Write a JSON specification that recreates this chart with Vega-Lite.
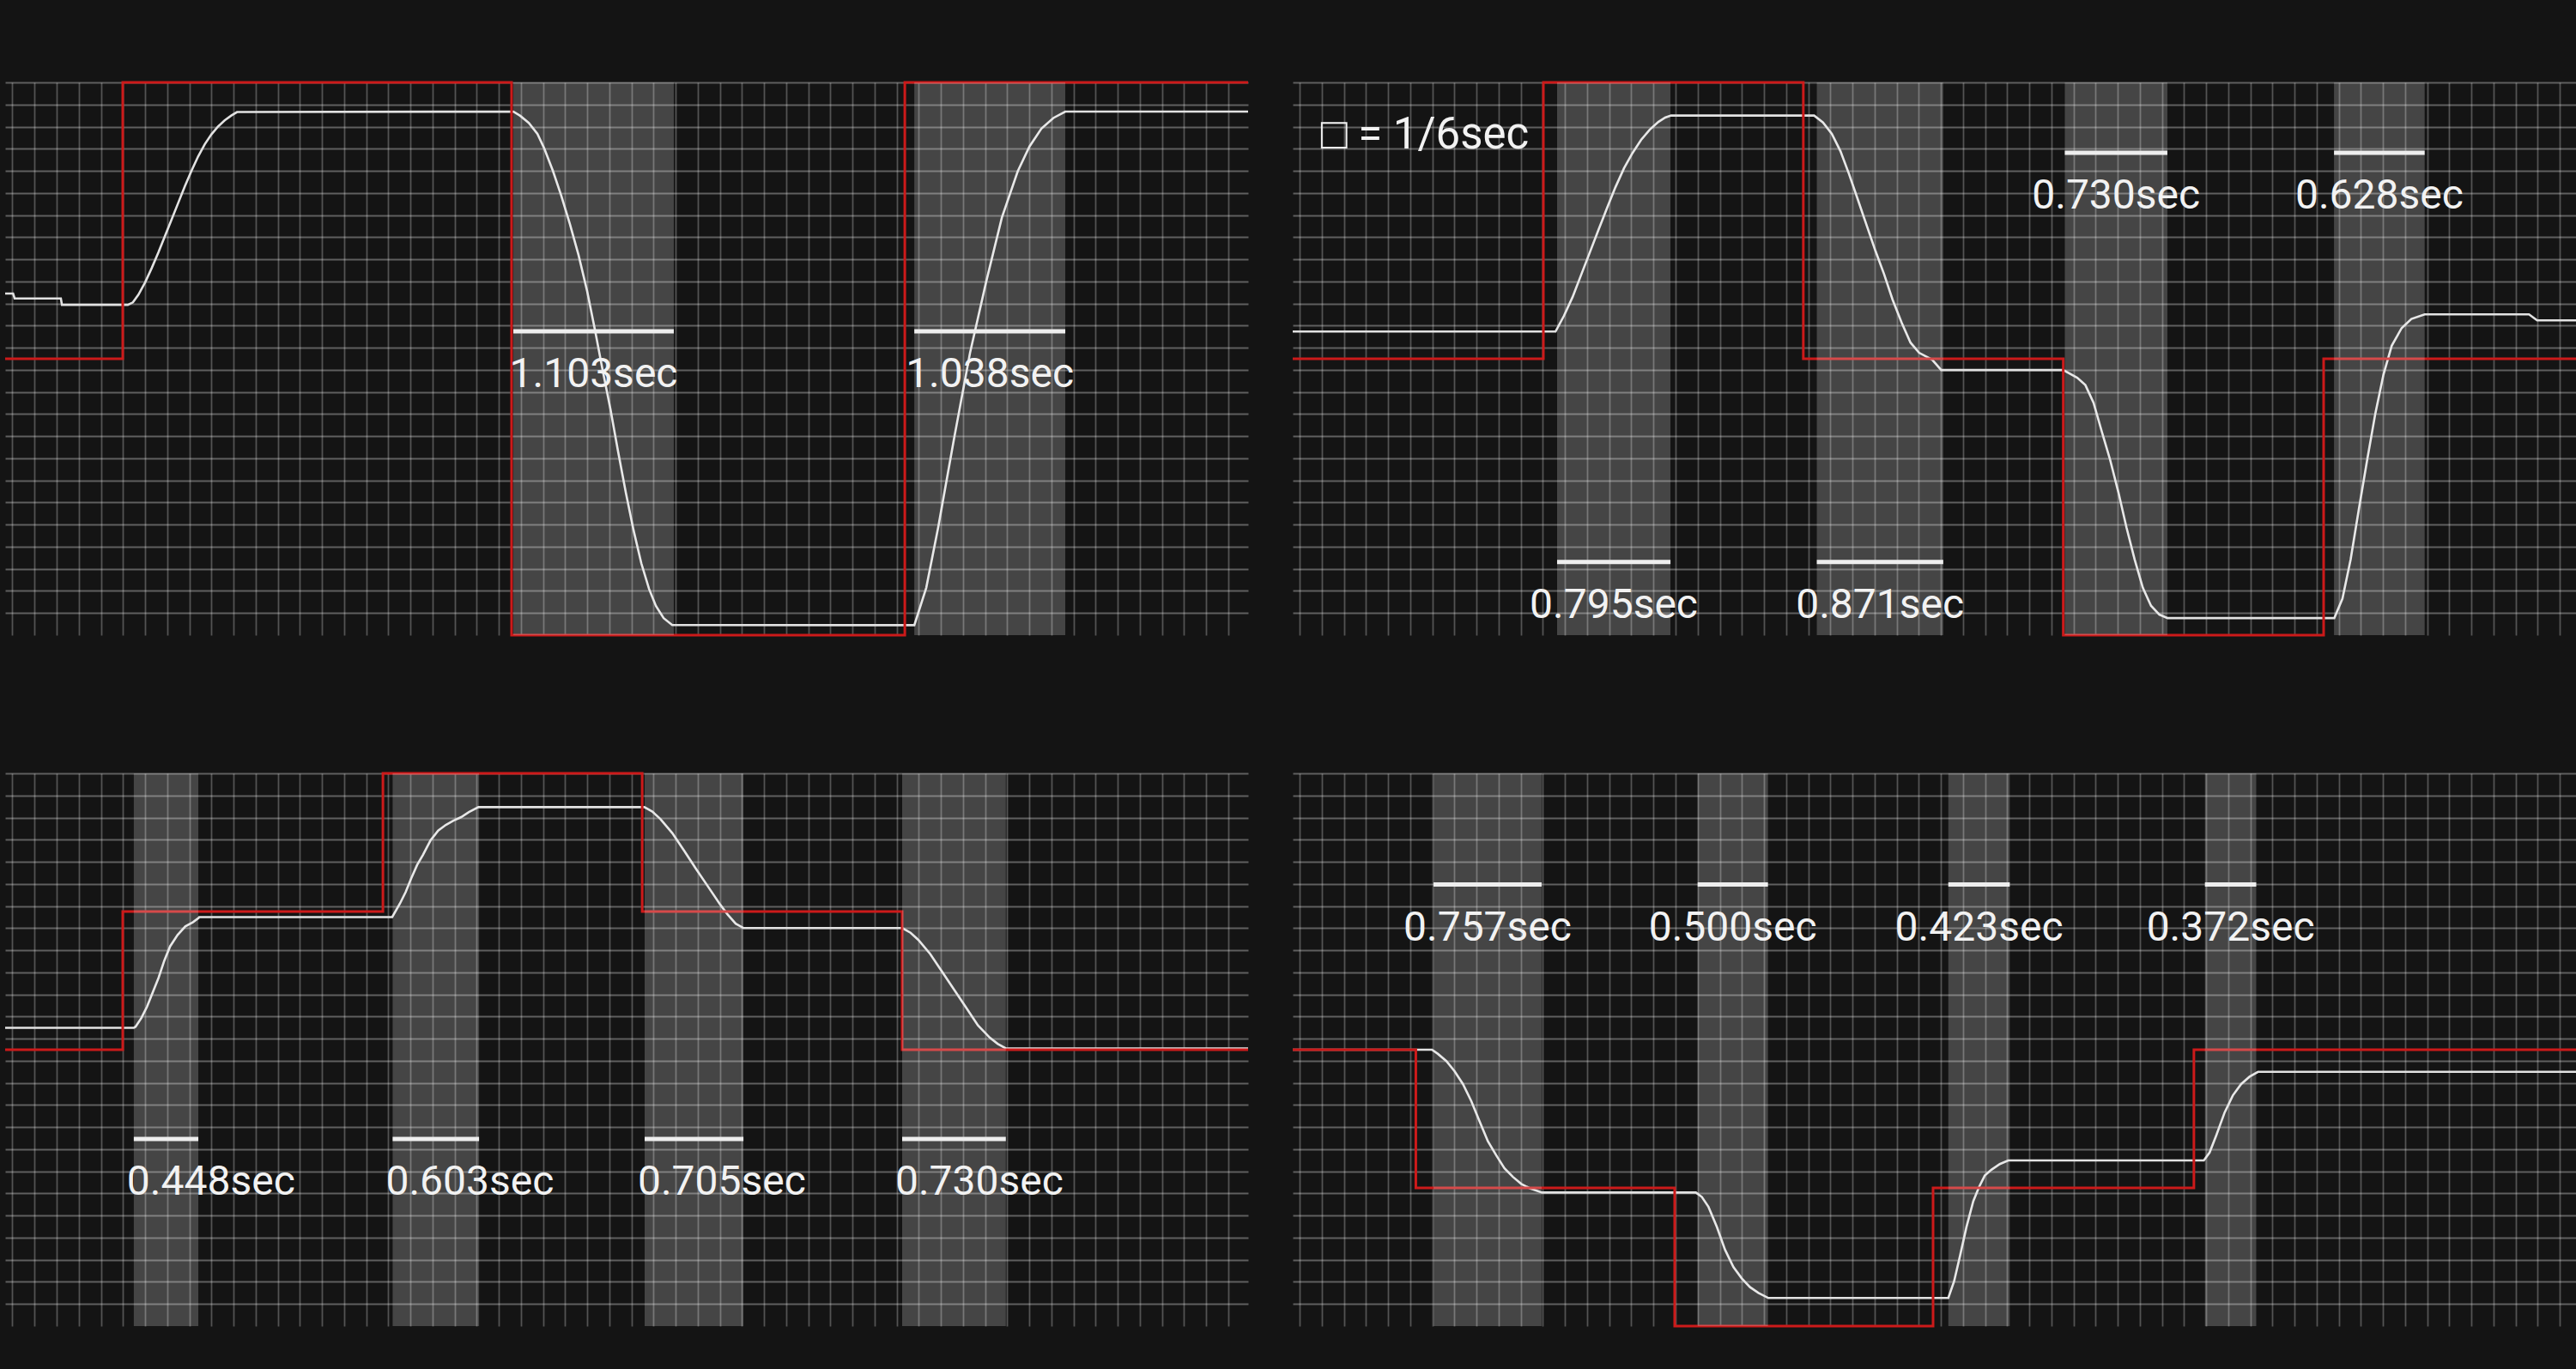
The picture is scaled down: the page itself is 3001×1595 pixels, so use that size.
{
"$schema": "https://vega.github.io/schema/vega-lite/v6.json",
"background": "#141414",
"padding": {"left": 0, "top": 90, "right": 0, "bottom": 56},
"datasets": {
"resp": [
{"panel":1,"t":-0.33,"v":15.45},{"panel":1,"t":0.03,"v":15.45},{"panel":1,"t":0.1,"v":15.23},{"panel":1,"t":2.19,"v":15.23},{"panel":1,"t":2.24,"v":14.94},{"panel":1,"t":5.22,"v":14.94},{"panel":1,"t":5.45,"v":15.05},{"panel":1,"t":5.7,"v":15.4},{"panel":1,"t":6.0,"v":15.95},{"panel":1,"t":6.3,"v":16.6},{"panel":1,"t":6.6,"v":17.3},{"panel":1,"t":6.9,"v":18.05},{"panel":1,"t":7.2,"v":18.8},{"panel":1,"t":7.5,"v":19.55},{"panel":1,"t":7.8,"v":20.3},{"panel":1,"t":8.1,"v":21.0},{"panel":1,"t":8.4,"v":21.65},{"panel":1,"t":8.7,"v":22.2},{"panel":1,"t":9.0,"v":22.65},{"panel":1,"t":9.3,"v":23.0},{"panel":1,"t":9.6,"v":23.28},{"panel":1,"t":9.9,"v":23.5},{"panel":1,"t":10.16,"v":23.66},{"panel":1,"t":22.66,"v":23.68},{"panel":1,"t":22.97,"v":23.49},{"panel":1,"t":23.36,"v":23.17},{"panel":1,"t":23.75,"v":22.67},{"panel":1,"t":24.06,"v":22.01},{"panel":1,"t":24.45,"v":21.0},{"panel":1,"t":24.83,"v":19.87},{"panel":1,"t":25.22,"v":18.59},{"panel":1,"t":25.61,"v":17.19},{"panel":1,"t":26.0,"v":15.56},{"panel":1,"t":26.35,"v":13.82},{"panel":1,"t":26.7,"v":11.99},{"panel":1,"t":27.05,"v":10.24},{"panel":1,"t":27.4,"v":8.3},{"panel":1,"t":27.75,"v":6.44},{"panel":1,"t":28.1,"v":4.74},{"panel":1,"t":28.45,"v":3.25},{"panel":1,"t":28.8,"v":2.09},{"panel":1,"t":29.11,"v":1.32},{"panel":1,"t":29.46,"v":0.77},{"panel":1,"t":29.85,"v":0.46},{"panel":1,"t":40.8,"v":0.45},{"panel":1,"t":41.34,"v":2.14},{"panel":1,"t":41.88,"v":4.87},{"panel":1,"t":42.6,"v":8.9},{"panel":1,"t":43.32,"v":12.76},{"panel":1,"t":44.05,"v":15.98},{"panel":1,"t":44.76,"v":18.88},{"panel":1,"t":45.48,"v":20.98},{"panel":1,"t":46.01,"v":22.1},{"panel":1,"t":46.55,"v":22.91},{"panel":1,"t":47.09,"v":23.39},{"panel":1,"t":47.63,"v":23.68},{"panel":1,"t":55.9,"v":23.68},
{"panel":2,"t":-0.32,"v":13.73},{"panel":2,"t":11.57,"v":13.73},{"panel":2,"t":11.95,"v":14.44},{"panel":2,"t":12.34,"v":15.29},{"panel":2,"t":12.73,"v":16.3},{"panel":2,"t":13.12,"v":17.31},{"panel":2,"t":13.51,"v":18.32},{"panel":2,"t":13.89,"v":19.29},{"panel":2,"t":14.28,"v":20.26},{"panel":2,"t":14.67,"v":21.12},{"panel":2,"t":15.06,"v":21.82},{"panel":2,"t":15.44,"v":22.4},{"panel":2,"t":15.83,"v":22.86},{"panel":2,"t":16.22,"v":23.21},{"panel":2,"t":16.53,"v":23.41},{"panel":2,"t":16.8,"v":23.5},{"panel":2,"t":23.27,"v":23.5},{"panel":2,"t":23.67,"v":23.19},{"panel":2,"t":24.07,"v":22.67},{"panel":2,"t":24.46,"v":21.89},{"panel":2,"t":24.85,"v":20.85},{"panel":2,"t":25.25,"v":19.69},{"panel":2,"t":25.65,"v":18.52},{"panel":2,"t":26.05,"v":17.36},{"panel":2,"t":26.43,"v":16.34},{"panel":2,"t":26.82,"v":15.17},{"panel":2,"t":27.23,"v":14.13},{"panel":2,"t":27.63,"v":13.23},{"panel":2,"t":28.02,"v":12.77},{"panel":2,"t":28.61,"v":12.46},{"panel":2,"t":29.02,"v":11.99},{"panel":2,"t":34.54,"v":11.99},{"panel":2,"t":35.17,"v":11.64},{"panel":2,"t":35.54,"v":11.31},{"panel":2,"t":35.91,"v":10.51},{"panel":2,"t":36.28,"v":9.22},{"panel":2,"t":36.66,"v":7.93},{"panel":2,"t":37.03,"v":6.48},{"panel":2,"t":37.4,"v":4.87},{"panel":2,"t":37.77,"v":3.42},{"panel":2,"t":38.14,"v":2.14},{"panel":2,"t":38.51,"v":1.33},{"panel":2,"t":38.89,"v":0.93},{"panel":2,"t":39.26,"v":0.77},{"panel":2,"t":46.8,"v":0.77},{"panel":2,"t":47.17,"v":1.65},{"panel":2,"t":47.54,"v":3.42},{"panel":2,"t":47.91,"v":5.68},{"panel":2,"t":48.29,"v":7.93},{"panel":2,"t":48.66,"v":10.03},{"panel":2,"t":49.03,"v":11.8},{"panel":2,"t":49.4,"v":13.09},{"panel":2,"t":49.85,"v":13.89},{"panel":2,"t":50.29,"v":14.3},{"panel":2,"t":50.89,"v":14.51},{"panel":2,"t":55.61,"v":14.51},{"panel":2,"t":55.98,"v":14.24},{"panel":2,"t":57.97,"v":14.24},
{"panel":3,"t":-0.33,"v":13.49},{"panel":3,"t":5.49,"v":13.49},{"panel":3,"t":5.57,"v":13.54},{"panel":3,"t":5.83,"v":13.93},{"panel":3,"t":6.09,"v":14.45},{"panel":3,"t":6.35,"v":15.1},{"panel":3,"t":6.61,"v":15.75},{"panel":3,"t":6.87,"v":16.53},{"panel":3,"t":7.13,"v":17.17},{"panel":3,"t":7.47,"v":17.69},{"panel":3,"t":7.82,"v":18.08},{"panel":3,"t":8.17,"v":18.27},{"panel":3,"t":8.42,"v":18.46},{"panel":3,"t":8.45,"v":18.5},{"panel":3,"t":17.18,"v":18.5},{"panel":3,"t":17.53,"v":19.11},{"panel":3,"t":17.79,"v":19.63},{"panel":3,"t":18.05,"v":20.27},{"panel":3,"t":18.31,"v":20.86},{"panel":3,"t":18.57,"v":21.31},{"panel":3,"t":18.91,"v":21.96},{"panel":3,"t":19.26,"v":22.41},{"panel":3,"t":19.61,"v":22.67},{"panel":3,"t":19.95,"v":22.86},{"panel":3,"t":20.3,"v":23.02},{"panel":3,"t":20.65,"v":23.25},{"panel":3,"t":21.08,"v":23.47},{"panel":3,"t":28.59,"v":23.47},{"panel":3,"t":28.95,"v":23.27},{"panel":3,"t":29.31,"v":22.94},{"panel":3,"t":29.85,"v":22.3},{"panel":3,"t":30.39,"v":21.5},{"panel":3,"t":30.91,"v":20.7},{"panel":3,"t":31.46,"v":19.89},{"panel":3,"t":32.0,"v":19.09},{"panel":3,"t":32.36,"v":18.61},{"panel":3,"t":32.72,"v":18.2},{"panel":3,"t":33.08,"v":18.0},{"panel":3,"t":40.26,"v":18.0},{"panel":3,"t":40.63,"v":17.79},{"panel":3,"t":40.98,"v":17.47},{"panel":3,"t":41.52,"v":16.83},{"panel":3,"t":42.06,"v":16.02},{"panel":3,"t":42.6,"v":15.22},{"panel":3,"t":43.14,"v":14.41},{"panel":3,"t":43.68,"v":13.6},{"panel":3,"t":44.22,"v":13.04},{"panel":3,"t":44.57,"v":12.77},{"panel":3,"t":44.94,"v":12.56},{"panel":3,"t":55.9,"v":12.56},
{"panel":4,"t":-0.32,"v":12.5},{"panel":4,"t":5.98,"v":12.5},{"panel":4,"t":6.25,"v":12.31},{"panel":4,"t":6.63,"v":11.99},{"panel":4,"t":7.0,"v":11.53},{"panel":4,"t":7.38,"v":10.95},{"panel":4,"t":7.76,"v":10.17},{"panel":4,"t":8.13,"v":9.27},{"panel":4,"t":8.51,"v":8.36},{"panel":4,"t":8.89,"v":7.72},{"panel":4,"t":9.26,"v":7.14},{"panel":4,"t":9.64,"v":6.75},{"panel":4,"t":10.02,"v":6.43},{"panel":4,"t":10.39,"v":6.24},{"panel":4,"t":10.96,"v":6.04},{"panel":4,"t":17.92,"v":6.04},{"panel":4,"t":18.19,"v":5.84},{"panel":4,"t":18.49,"v":5.39},{"panel":4,"t":18.87,"v":4.48},{"panel":4,"t":19.24,"v":3.45},{"panel":4,"t":19.62,"v":2.67},{"panel":4,"t":20.0,"v":2.15},{"panel":4,"t":20.37,"v":1.76},{"panel":4,"t":20.75,"v":1.5},{"panel":4,"t":21.2,"v":1.27},{"panel":4,"t":29.34,"v":1.27},{"panel":4,"t":29.6,"v":2.02},{"panel":4,"t":29.87,"v":3.18},{"panel":4,"t":30.16,"v":4.48},{"panel":4,"t":30.47,"v":5.65},{"panel":4,"t":30.73,"v":6.29},{"panel":4,"t":30.99,"v":6.81},{"panel":4,"t":31.29,"v":7.07},{"panel":4,"t":31.67,"v":7.33},{"panel":4,"t":32.05,"v":7.49},{"panel":4,"t":40.9,"v":7.49},{"panel":4,"t":41.16,"v":7.85},{"panel":4,"t":41.46,"v":8.62},{"panel":4,"t":41.84,"v":9.66},{"panel":4,"t":42.21,"v":10.43},{"panel":4,"t":42.59,"v":10.95},{"panel":4,"t":42.97,"v":11.28},{"panel":4,"t":43.35,"v":11.5},{"panel":4,"t":57.97,"v":11.5}
],
"target": [
{"panel":1,"t":-0.33,"v":12.5},{"panel":1,"t":4.99,"v":25},{"panel":1,"t":22.58,"v":0},{"panel":1,"t":40.37,"v":25},{"panel":1,"t":55.9,"v":25},
{"panel":2,"t":-0.32,"v":12.5},{"panel":2,"t":11.02,"v":25},{"panel":2,"t":22.78,"v":12.5},{"panel":2,"t":34.54,"v":0},{"panel":2,"t":46.32,"v":12.5},{"panel":2,"t":57.97,"v":12.5},
{"panel":3,"t":-0.33,"v":12.5},{"panel":3,"t":4.99,"v":18.75},{"panel":3,"t":16.76,"v":25},{"panel":3,"t":28.49,"v":18.75},{"panel":3,"t":40.25,"v":12.5},{"panel":3,"t":55.9,"v":12.5},
{"panel":4,"t":-0.32,"v":12.5},{"panel":4,"t":5.25,"v":6.25},{"panel":4,"t":16.96,"v":0},{"panel":4,"t":28.65,"v":6.25},{"panel":4,"t":40.45,"v":12.5},{"panel":4,"t":57.97,"v":12.5}
],
"bands": [
{"panel":1,"t":22.66,"t2":29.92,"v":13.74,"label":"1.103sec"},{"panel":1,"t":40.8,"t2":47.63,"v":13.74,"label":"1.038sec"},
{"panel":2,"t":11.64,"t2":16.77,"v":3.31,"label":"0.795sec"},{"panel":2,"t":23.39,"t2":29.11,"v":3.31,"label":"0.871sec"},{"panel":2,"t":34.61,"t2":39.25,"v":21.82,"label":"0.730sec"},{"panel":2,"t":46.79,"t2":50.89,"v":21.82,"label":"0.628sec"},
{"panel":3,"t":5.49,"t2":8.41,"v":8.46,"label":"0.448sec"},{"panel":3,"t":17.2,"t2":21.11,"v":8.46,"label":"0.603sec"},{"panel":3,"t":28.6,"t2":33.07,"v":8.46,"label":"0.705sec"},{"panel":3,"t":40.25,"t2":44.94,"v":8.46,"label":"0.730sec"},
{"panel":4,"t":6.05,"t2":10.94,"v":19.97,"label":"0.757sec"},{"panel":4,"t":18.0,"t2":21.18,"v":19.97,"label":"0.500sec"},{"panel":4,"t":29.34,"t2":32.12,"v":19.97,"label":"0.423sec"},{"panel":4,"t":40.95,"t2":43.27,"v":19.97,"label":"0.372sec"}
],
"note": [{"panel":2,"t":0.95,"v":22.01,"label":"□ = 1/6sec"}]
},
"columns": 2,
"spacing": {"row": 161, "column": 52},
"bounds": "flush",
"concat": [
{"width": 1448, "height": 644,
 "encoding": {
  "x": {"field": "t", "type": "quantitative", "title": null, "scale": {"domain": [-0.33, 55.9], "nice": false, "zero": false}, "axis": {"title": null, "values": [0,1,2,3,4,5,6,7,8,9,10,11,12,13,14,15,16,17,18,19,20,21,22,23,24,25,26,27,28,29,30,31,32,33,34,35,36,37,38,39,40,41,42,43,44,45,46,47,48,49,50,51,52,53,54,55]}},
  "y": {"field": "v", "type": "quantitative", "title": null, "scale": {"domain": [0, 25], "nice": false, "zero": false}, "axis": {"title": null, "values": [1,2,3,4,5,6,7,8,9,10,11,12,13,14,15,16,17,18,19,20,21,22,23,24,25]}}
 },
 "layer": [
  {"data": {"name": "resp"}, "transform": [{"filter": "datum.panel == 1"}], "mark": {"type": "line", "color": "#e2e2e2", "strokeWidth": 2.6}},
  {"data": {"name": "target"}, "transform": [{"filter": "datum.panel == 1"}], "mark": {"type": "line", "interpolate": "step-after", "color": "#cc1a1a", "strokeWidth": 3}},
  {"data": {"name": "bands"}, "transform": [{"filter": "datum.panel == 1"}], "mark": {"type": "rect", "color": "#ffffff", "opacity": 0.21}, "encoding": {"x2": {"field": "t2"}, "y": {"datum": 0, "title": null}, "y2": {"datum": 25}}},
  {"data": {"name": "bands"}, "transform": [{"filter": "datum.panel == 1"}], "mark": {"type": "rule", "color": "#eeeeee", "strokeWidth": 5}, "encoding": {"x2": {"field": "t2"}}},
  {"data": {"name": "bands"}, "transform": [{"filter": "datum.panel == 1"}, {"calculate": "(datum.t + datum.t2) / 2", "as": "t"}], "mark": {"type": "text", "font": "Roboto", "fontSize": 48, "color": "#f2f2f2", "align": "center", "baseline": "alphabetic", "dy": 65}, "encoding": {"text": {"field": "label"}}}
 ]},
{"width": 1501, "height": 644,
 "encoding": {
  "x": {"field": "t", "type": "quantitative", "title": null, "scale": {"domain": [-0.32, 57.97], "nice": false, "zero": false}, "axis": {"title": null, "values": [0,1,2,3,4,5,6,7,8,9,10,11,12,13,14,15,16,17,18,19,20,21,22,23,24,25,26,27,28,29,30,31,32,33,34,35,36,37,38,39,40,41,42,43,44,45,46,47,48,49,50,51,52,53,54,55,56,57]}},
  "y": {"field": "v", "type": "quantitative", "title": null, "scale": {"domain": [0, 25], "nice": false, "zero": false}, "axis": {"title": null, "values": [1,2,3,4,5,6,7,8,9,10,11,12,13,14,15,16,17,18,19,20,21,22,23,24,25]}}
 },
 "layer": [
  {"data": {"name": "resp"}, "transform": [{"filter": "datum.panel == 2"}], "mark": {"type": "line", "color": "#e2e2e2", "strokeWidth": 2.6}},
  {"data": {"name": "target"}, "transform": [{"filter": "datum.panel == 2"}], "mark": {"type": "line", "interpolate": "step-after", "color": "#cc1a1a", "strokeWidth": 3}},
  {"data": {"name": "bands"}, "transform": [{"filter": "datum.panel == 2"}], "mark": {"type": "rect", "color": "#ffffff", "opacity": 0.21}, "encoding": {"x2": {"field": "t2"}, "y": {"datum": 0, "title": null}, "y2": {"datum": 25}}},
  {"data": {"name": "bands"}, "transform": [{"filter": "datum.panel == 2"}], "mark": {"type": "rule", "color": "#eeeeee", "strokeWidth": 5}, "encoding": {"x2": {"field": "t2"}}},
  {"data": {"name": "bands"}, "transform": [{"filter": "datum.panel == 2"}, {"calculate": "(datum.t + datum.t2) / 2", "as": "t"}], "mark": {"type": "text", "font": "Roboto", "fontSize": 48, "color": "#f2f2f2", "align": "center", "baseline": "alphabetic", "dy": 65}, "encoding": {"text": {"field": "label"}}},
  {"data": {"name": "note"}, "mark": {"type": "text", "font": "Roboto", "fontSize": 51, "color": "#f2f2f2", "align": "left", "baseline": "alphabetic"}, "encoding": {"text": {"field": "label"}}}
 ]},
{"width": 1448, "height": 644,
 "encoding": {
  "x": {"field": "t", "type": "quantitative", "title": null, "scale": {"domain": [-0.33, 55.9], "nice": false, "zero": false}, "axis": {"title": null, "values": [0,1,2,3,4,5,6,7,8,9,10,11,12,13,14,15,16,17,18,19,20,21,22,23,24,25,26,27,28,29,30,31,32,33,34,35,36,37,38,39,40,41,42,43,44,45,46,47,48,49,50,51,52,53,54,55]}},
  "y": {"field": "v", "type": "quantitative", "title": null, "scale": {"domain": [0, 25], "nice": false, "zero": false}, "axis": {"title": null, "values": [1,2,3,4,5,6,7,8,9,10,11,12,13,14,15,16,17,18,19,20,21,22,23,24,25]}}
 },
 "layer": [
  {"data": {"name": "resp"}, "transform": [{"filter": "datum.panel == 3"}], "mark": {"type": "line", "color": "#e2e2e2", "strokeWidth": 2.6}},
  {"data": {"name": "target"}, "transform": [{"filter": "datum.panel == 3"}], "mark": {"type": "line", "interpolate": "step-after", "color": "#cc1a1a", "strokeWidth": 3}},
  {"data": {"name": "bands"}, "transform": [{"filter": "datum.panel == 3"}], "mark": {"type": "rect", "color": "#ffffff", "opacity": 0.21}, "encoding": {"x2": {"field": "t2"}, "y": {"datum": 0, "title": null}, "y2": {"datum": 25}}},
  {"data": {"name": "bands"}, "transform": [{"filter": "datum.panel == 3"}], "mark": {"type": "rule", "color": "#eeeeee", "strokeWidth": 5}, "encoding": {"x2": {"field": "t2"}}},
  {"data": {"name": "bands"}, "transform": [{"filter": "datum.panel == 3"}], "mark": {"type": "text", "font": "Roboto", "fontSize": 48, "color": "#f2f2f2", "align": "left", "baseline": "alphabetic", "dx": -8, "dy": 65}, "encoding": {"text": {"field": "label"}}}
 ]},
{"width": 1501, "height": 644,
 "encoding": {
  "x": {"field": "t", "type": "quantitative", "title": null, "scale": {"domain": [-0.32, 57.97], "nice": false, "zero": false}, "axis": {"title": null, "values": [0,1,2,3,4,5,6,7,8,9,10,11,12,13,14,15,16,17,18,19,20,21,22,23,24,25,26,27,28,29,30,31,32,33,34,35,36,37,38,39,40,41,42,43,44,45,46,47,48,49,50,51,52,53,54,55,56,57]}},
  "y": {"field": "v", "type": "quantitative", "title": null, "scale": {"domain": [0, 25], "nice": false, "zero": false}, "axis": {"title": null, "values": [1,2,3,4,5,6,7,8,9,10,11,12,13,14,15,16,17,18,19,20,21,22,23,24,25]}}
 },
 "layer": [
  {"data": {"name": "resp"}, "transform": [{"filter": "datum.panel == 4"}], "mark": {"type": "line", "color": "#e2e2e2", "strokeWidth": 2.6}},
  {"data": {"name": "target"}, "transform": [{"filter": "datum.panel == 4"}], "mark": {"type": "line", "interpolate": "step-after", "color": "#cc1a1a", "strokeWidth": 3}},
  {"data": {"name": "bands"}, "transform": [{"filter": "datum.panel == 4"}], "mark": {"type": "rect", "color": "#ffffff", "opacity": 0.21}, "encoding": {"x2": {"field": "t2"}, "y": {"datum": 0, "title": null}, "y2": {"datum": 25}}},
  {"data": {"name": "bands"}, "transform": [{"filter": "datum.panel == 4"}], "mark": {"type": "rule", "color": "#eeeeee", "strokeWidth": 5}, "encoding": {"x2": {"field": "t2"}}},
  {"data": {"name": "bands"}, "transform": [{"filter": "datum.panel == 4"}, {"calculate": "(datum.t + datum.t2) / 2", "as": "t"}], "mark": {"type": "text", "font": "Roboto", "fontSize": 48, "color": "#f2f2f2", "align": "center", "baseline": "alphabetic", "dy": 65}, "encoding": {"text": {"field": "label"}}}
 ]}
],
"config": {
 "view": {"stroke": null},
 "axis": {"labels": false, "ticks": false, "domain": false, "grid": true, "gridColor": "#ffffff"},
 "axisX": {"gridOpacity": 0.27, "gridWidth": 1.8},
 "axisY": {"gridOpacity": 0.32, "gridWidth": 2.2}
}
}
